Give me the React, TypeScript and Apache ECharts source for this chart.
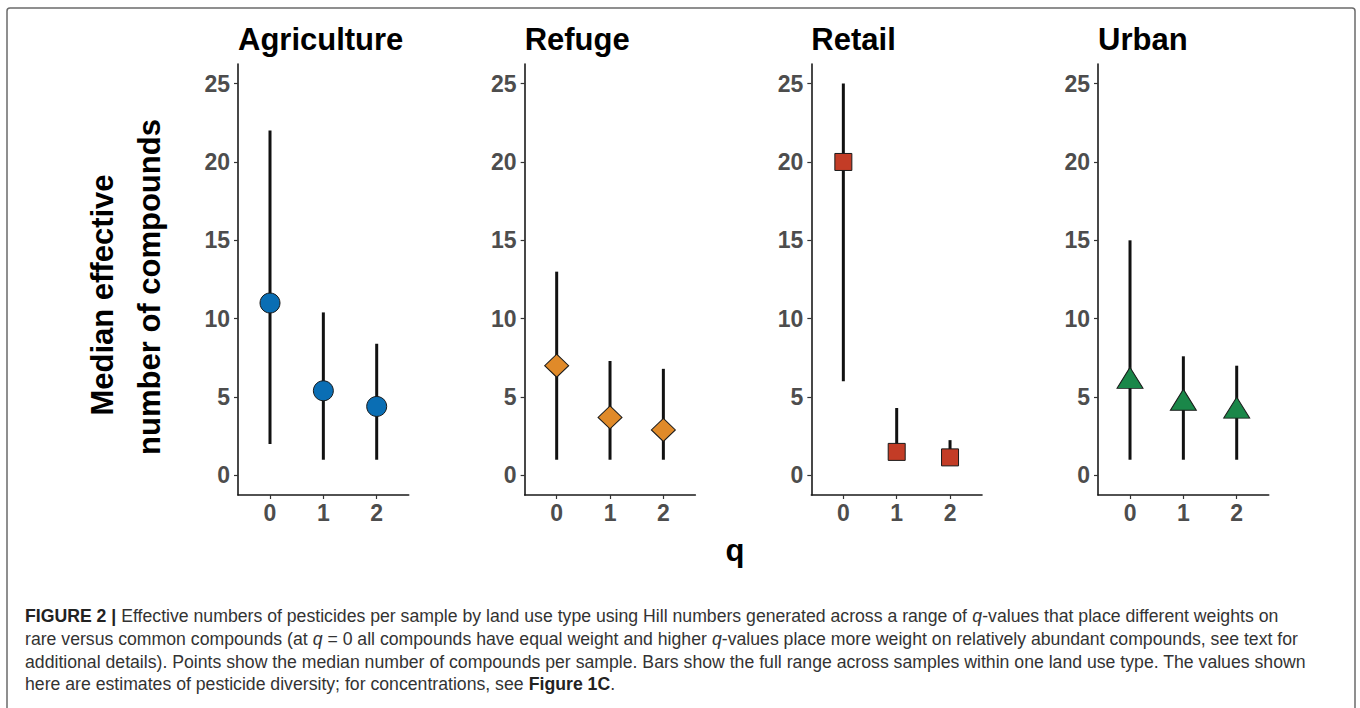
import React, { useEffect, useRef } from "react";
import * as echarts from "echarts";

const panelNames = ["Agriculture", "Refuge", "Retail", "Urban"];
const qValues = [0, 1, 2];
const yTicks = [0, 5, 10, 15, 20, 25];

const agMedian = [11, 5.4, 4.4];
const agLow = [2, 1, 1];
const agHigh = [22, 10.4, 8.4];

const refMedian = [7, 3.7, 2.9];
const refLow = [1, 1, 1];
const refHigh = [13, 7.3, 6.8];

const retMedian = [20, 1.5, 1.15];
const retLow = [6, 1, 1];
const retHigh = [25, 4.3, 2.25];

const urbMedian = [6, 4.6, 4.1];
const urbLow = [1, 1, 1];
const urbHigh = [15, 7.6, 7];

const medians = [agMedian, refMedian, retMedian, urbMedian];
const lows = [agLow, refLow, retLow, urbLow];
const highs = [agHigh, refHigh, retHigh, urbHigh];

const colors = ["#0A6EB4", "#E08A29", "#C33C26", "#1A8749"];
const symbols = ["circle", "diamond", "rect", "triangle"];
const symbolSizes: any[] = [20, [24, 23], 17, [26, 21]];
const symbolOffsets: any[] = [[0, 0], [0, 0], [0, 0], [0, -3.5]];

const captionLines = [
  "{b|FIGURE 2 |} Effective numbers of pesticides per sample by land use type using Hill numbers generated across a range of {i|q}-values that place different weights on",
  "rare versus common compounds (at {i|q} = 0 all compounds have equal weight and higher {i|q}-values place more weight on relatively abundant compounds, see text for",
  "additional details). Points show the median number of compounds per sample. Bars show the full range across samples within one land use type. The values shown",
  "here are estimates of pesticide diversity; for concentrations, see {b|Figure 1C}.",
];

const FONT = "'Liberation Sans', Arial, Helvetica, sans-serif";

export default function App() {
  const ref = useRef<HTMLDivElement>(null);

  useEffect(() => {
    if (!ref.current) return;
    const chart = echarts.init(ref.current, null, { renderer: "svg" });

    const gridLeft0 = 238;
    const gridStep = 286.67;
    const gridW = 170.7;
    const gridTop = 64;
    const gridH = 431;

    const grids: any[] = [];
    const xAxes: any[] = [];
    const yAxes: any[] = [];
    const series: any[] = [];
    const graphics: any[] = [];

    panelNames.forEach((name, p) => {
      const left = gridLeft0 + p * gridStep;
      grids.push({ left, top: gridTop, width: gridW, height: gridH, containLabel: false });
      xAxes.push({
        type: "value",
        gridIndex: p,
        min: -0.6,
        max: 2.6,
        splitLine: { show: false },
        axisLine: { show: true, onZero: false, lineStyle: { color: "#1a1a1a", width: 1.6 } },
        axisTick: { show: true, customValues: qValues, length: 4, lineStyle: { color: "#333", width: 1.2 } },
        axisLabel: {
          customValues: qValues,
          margin: 6,
          fontSize: 23,
          fontWeight: "bold",
          color: "#4D4D4D",
          fontFamily: FONT,
        },
      });
      yAxes.push({
        type: "value",
        gridIndex: p,
        min: -1.25,
        max: 26.25,
        splitLine: { show: false },
        axisLine: { show: true, onZero: false, lineStyle: { color: "#1a1a1a", width: 1.6 } },
        axisTick: { show: true, customValues: yTicks, length: 4, lineStyle: { color: "#333", width: 1.2 } },
        axisLabel: {
          customValues: yTicks,
          margin: 8,
          fontSize: 23,
          fontWeight: "bold",
          color: "#4D4D4D",
          fontFamily: FONT,
        },
      });
      series.push({
        type: "custom",
        xAxisIndex: p,
        yAxisIndex: p,
        encode: { x: 0, y: [1, 2] },
        data: qValues.map((q, i) => [q, lows[p][i], highs[p][i]]),
        renderItem: (params: any, api: any) => {
          const x = api.value(0);
          const a = api.coord([x, api.value(1)]);
          const b = api.coord([x, api.value(2)]);
          return {
            type: "line",
            shape: { x1: a[0], y1: a[1], x2: b[0], y2: b[1] },
            style: { stroke: "#111", lineWidth: 3 },
          };
        },
        z: 2,
      });
      series.push({
        type: "scatter",
        xAxisIndex: p,
        yAxisIndex: p,
        data: qValues.map((q, i) => [q, medians[p][i]]),
        symbol: symbols[p],
        symbolSize: symbolSizes[p],
        symbolOffset: symbolOffsets[p],
        itemStyle: { color: colors[p], borderColor: "#1a1a1a", borderWidth: 1, opacity: 1 },
        z: 3,
      });
      graphics.push({
        type: "text",
        x: left,
        y: 39,
        style: {
          text: name,
          fontSize: 31,
          fontWeight: "bold",
          fontFamily: FONT,
          fill: "#000",
          align: "left",
          verticalAlign: "middle",
        },
      });
    });

    // y axis title
    graphics.push({
      type: "text",
      x: 102,
      y: 295,
      rotation: Math.PI / 2,
      style: {
        text: "Median effective",
        fontSize: 31,
        fontWeight: "bold",
        fontFamily: FONT,
        fill: "#000",
        align: "center",
        verticalAlign: "middle",
      },
    });
    graphics.push({
      type: "text",
      x: 149.5,
      y: 287,
      rotation: Math.PI / 2,
      style: {
        text: "number of compounds",
        fontSize: 31,
        fontWeight: "bold",
        fontFamily: FONT,
        fill: "#000",
        align: "center",
        verticalAlign: "middle",
      },
    });
    // x axis title
    graphics.push({
      type: "text",
      x: 735,
      y: 550,
      style: {
        text: "q",
        fontSize: 31,
        fontWeight: "bold",
        fontFamily: FONT,
        fill: "#000",
        align: "center",
        verticalAlign: "middle",
      },
    });

    // frame
    graphics.push({
      type: "rect",
      shape: { x: 7, y: 8, width: 1348, height: 740, r: 3 },
      style: { fill: "none", stroke: "#6b6b6b", lineWidth: 1.5 },
      z: -1,
    });

    // caption
    const capY = [616, 639, 661.5, 684];
    const capSize = 18.5;
    captionLines.forEach((line, k) => {
      graphics.push({
        type: "text",
        x: 25,
        y: capY[k],
        scaleX: 0.955,
        style: {
          text: line,
          fontSize: capSize,
          fontFamily: FONT,
          fill: "#333",
          align: "left",
          verticalAlign: "middle",
          rich: {
            b: { fontSize: capSize, fontFamily: FONT, fontWeight: "bold", fill: "#222" },
            i: { fontSize: capSize, fontFamily: FONT, fontStyle: "italic", fill: "#333" },
          },
        },
      });
    });

    chart.setOption({
      animation: false,
      backgroundColor: "#ffffff",
      grid: grids,
      xAxis: xAxes,
      yAxis: yAxes,
      series,
      graphic: { elements: graphics },
    });

    return () => {
      chart.dispose();
    };
  }, []);

  return (
    <div
      ref={ref}
      style={{ position: "absolute", left: 0, top: 0, width: 1360, height: 708 }}
    />
  );
}
